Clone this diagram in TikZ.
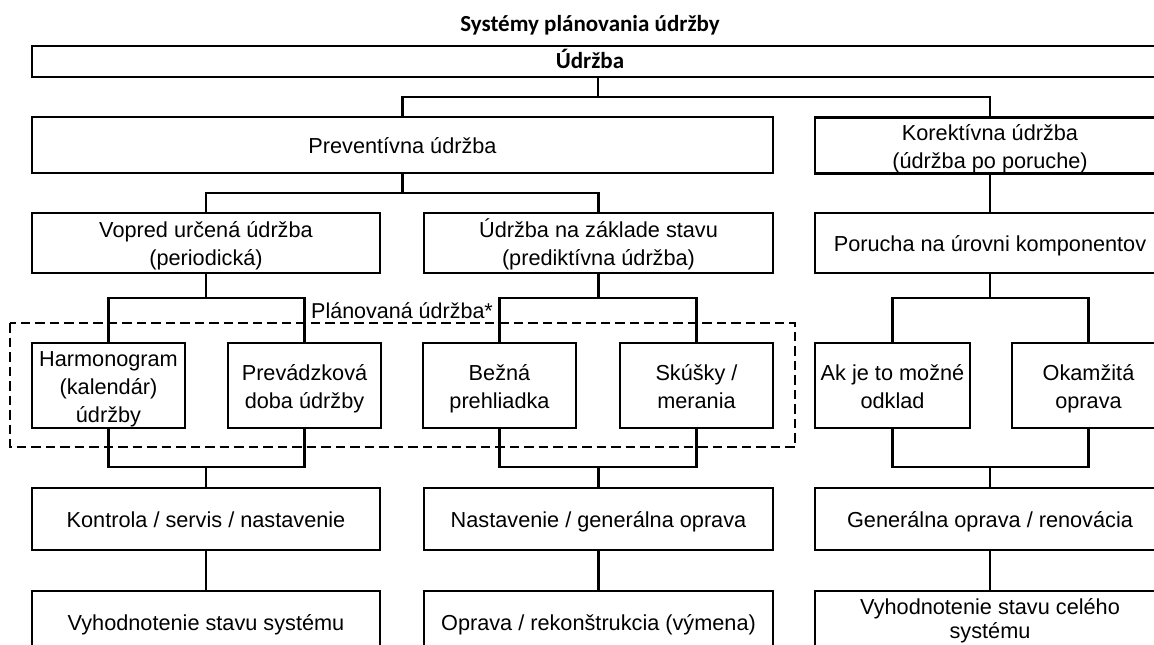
\documentclass[tikz,border=0pt]{standalone}
\usepackage{fontspec}
\setmainfont{Liberation Sans}
\newfontfamily\carl{Carlito}
\newcommand{\ls}{\rule[-5pt]{0pt}{27pt}}
\newcommand{\lsdeep}{\rule[-14pt]{0pt}{14pt}}
\begin{document}
\begin{tikzpicture}[x=1pt,y=-1pt,
  box/.style={draw, line width=2.3pt, inner sep=0pt, align=center,
    font=\fontsize{21.7}{28}\selectfont},
  conn/.style={line width=2.3pt, line join=miter},
  ttl/.style={inner sep=0pt, anchor=base, font=\carl\bfseries\fontsize{23}{26}\selectfont},
  dashbox/.style={line width=2.1pt, dash pattern=on 9.5pt off 5pt}]
\useasboundingbox (0,0) rectangle (1154,645);
\clip (0,0) rectangle (1154,645);
\fill[white] (0,0) rectangle (1154,645);

\node[ttl] (title) at (590,31) {Systémy plánovania údržby};

\node[box, minimum width=1132pt, minimum height=31pt] (udrzba) at (598,61.5) {};
\node[ttl] (udrzbaT) at (590,68.5) {Údržba};

\node[box, minimum width=741pt, minimum height=56pt] (prev) at (402.5,145) {\ls Preventívna údržba};
\node[box, minimum width=350pt, minimum height=56pt] (kor) at (990,145.5) {\ls Korektívna údržba\\\ls (údržba po poruche)};

\node[box, minimum width=348pt, minimum height=60pt] (vop) at (206,243) {\ls Vopred určená údržba\\\ls (periodická)};
\node[box, minimum width=349pt, minimum height=60pt] (zak) at (598.5,243) {\ls Údržba na základe stavu\\\ls (prediktívna údržba)};
\node[box, minimum width=350pt, minimum height=60pt] (por) at (990,243) {\ls Porucha na úrovni komponentov};

\node[box, minimum width=153pt, minimum height=85pt] (harm) at (108.5,385.5) {\ls Harmonogram\\\ls (kalendár)\\\ls údržby};
\node[box, minimum width=153pt, minimum height=85pt] (prevad) at (304.5,385.5) {\ls Prevádzková\\\ls doba údržby};
\node[box, minimum width=153pt, minimum height=85pt] (bez) at (499.5,385.5) {\ls Bežná\\\ls prehliadka};
\node[box, minimum width=153pt, minimum height=85pt] (sku) at (696.5,385.5) {\ls Skúšky /\\\ls merania};
\node[box, minimum width=155pt, minimum height=85pt] (ak) at (892.5,385.5) {\ls Ak je to možné\\\ls odklad};
\node[box, minimum width=153pt, minimum height=85pt] (oka) at (1088.5,385.5) {\ls Okamžitá\\\ls oprava};

\node[box, minimum width=348pt, minimum height=62pt] (kon) at (206,519) {\ls Kontrola / servis / nastavenie};
\node[box, minimum width=349pt, minimum height=62pt] (nast) at (598.5,519) {\ls Nastavenie / generálna oprava};
\node[box, minimum width=350pt, minimum height=62pt] (gen) at (990,519) {\ls Generálna oprava / renovácia};

\node[box, minimum width=348pt, minimum height=62pt] (vyh) at (206,622) {\ls Vyhodnotenie stavu systému};
\node[box, minimum width=349pt, minimum height=62pt] (opr) at (598.5,622) {\ls Oprava / rekonštrukcia (výmena)};
\node[box, minimum width=350pt, minimum height=62pt, font=\fontsize{21.7}{24}\selectfont] (vyhc) at (990,622) {\rule{0pt}{22pt}Vyhodnotenie stavu celého\\\lsdeep systému};

% dashed group
\draw[dashbox] (10,323) rectangle (795,447);
\node[anchor=base west, inner sep=0pt, font=\fontsize{21.5}{26}\selectfont] (plan) at (311,318) {Plánovaná údržba*};

% junction levels
\coordinate (y1) at (0,97);
\coordinate (y2) at (0,193);
\coordinate (y3) at (0,298);
\coordinate (y4) at (0,467);

\draw[conn] (udrzba.south) -- (udrzba.south |- y1);
\draw[conn] (prev.north) |- (kor.north |- y1) -- (kor.north);

\draw[conn] (prev.south) -- (prev.south |- y2);
\draw[conn] (vop.north) |- (zak.north |- y2) -- (zak.north);
\draw[conn] (kor.south) -- (por.north);

\draw[conn] (vop.south) -- (vop.south |- y3);
\draw[conn] (harm.north) |- (prevad.north |- y3) -- (prevad.north);
\draw[conn] (zak.south) -- (zak.south |- y3);
\draw[conn] (bez.north) |- (sku.north |- y3) -- (sku.north);
\draw[conn] (por.south) -- (por.south |- y3);
\draw[conn] (ak.north) |- (oka.north |- y3) -- (oka.north);

\draw[conn] (harm.south) |- (prevad.south |- y4) -- (prevad.south);
\draw[conn] (kon.north) -- (kon.north |- y4);
\draw[conn] (bez.south) |- (sku.south |- y4) -- (sku.south);
\draw[conn] (nast.north) -- (nast.north |- y4);
\draw[conn] (ak.south) |- (oka.south |- y4) -- (oka.south);
\draw[conn] (gen.north) -- (gen.north |- y4);

\draw[conn] (kon.south) -- (vyh.north);
\draw[conn] (nast.south) -- (opr.north);
\draw[conn] (gen.south) -- (vyhc.north);
\end{tikzpicture}
\end{document}
